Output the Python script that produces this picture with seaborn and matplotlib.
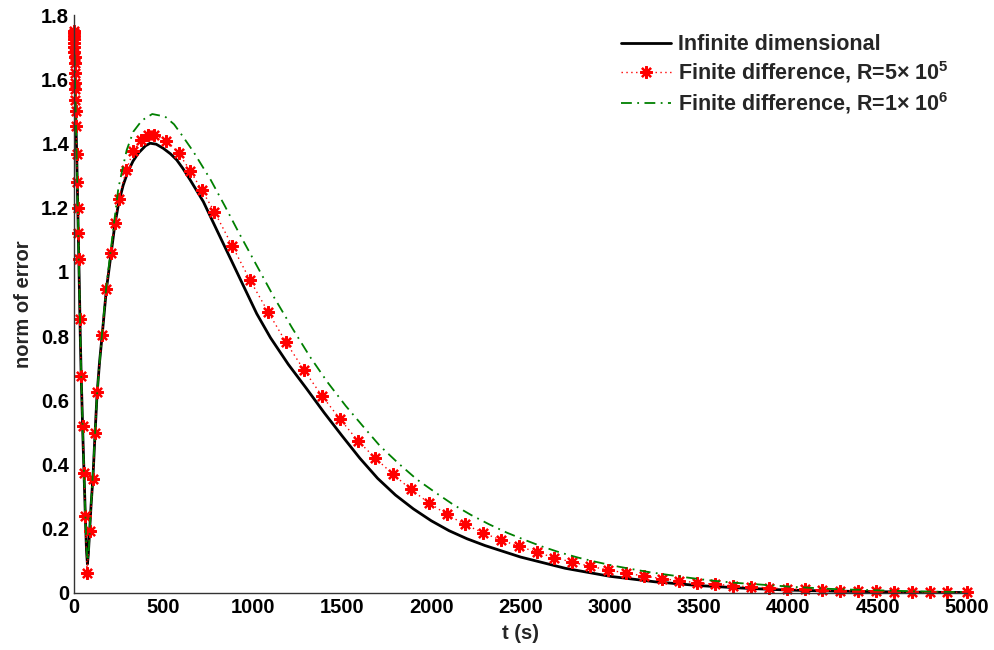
"""
Norm of estimation error: infinite dimensional vs finite difference observers
"""

import matplotlib
matplotlib.use("Agg")
import matplotlib.pyplot as plt
import seaborn as sns

# values
t_inf = [0, 5, 10, 15, 20, 25, 30, 35, 40, 45, 50, 55, 60, 65, 70, 75, 80, 88, 95,
         106, 118, 129, 143, 157, 181, 207, 228, 250, 275, 300, 330, 360, 400, 426,
         460, 500, 540, 575, 610, 650, 724, 800, 873, 950, 1023, 1100, 1200, 1300,
         1400, 1500, 1600, 1700, 1800, 1900, 2000, 2100, 2200, 2300, 2400, 2500, 2750,
         3000, 3250, 3500, 3750, 4000, 4250, 4500, 4750, 5000]
err_inf = [1.75, 1.605, 1.48, 1.367, 1.23, 1.09, 0.95, 0.80, 0.677, 0.58, 0.48, 0.39,
           0.30, 0.21, 0.13, 0.09, 0.12, 0.20, 0.27, 0.36, 0.50, 0.62, 0.72, 0.80,
           0.945, 1.055, 1.145, 1.215, 1.27, 1.31, 1.345, 1.37, 1.393, 1.401, 1.398,
           1.385, 1.368, 1.349, 1.322, 1.287, 1.219, 1.13, 1.045, 0.955, 0.87, 0.795,
           0.712, 0.638, 0.562, 0.49, 0.42, 0.357, 0.305, 0.262, 0.225, 0.194, 0.169,
           0.148, 0.13, 0.112, 0.077, 0.052, 0.035, 0.023, 0.015, 0.009, 0.006, 0.004,
           0.0025, 0.0015]

t_fd5 = [0, 0.4, 0.8, 1.2, 1.6, 2, 2.5, 3, 3.6, 4.5, 5.5, 6.5, 8, 9.5, 11.5, 15, 19,
         22, 25, 28, 33, 40, 48, 56, 63, 73, 88, 106, 118, 129, 157, 181, 207, 228,
         250, 293, 332, 373, 413, 450, 517, 586, 651, 716, 786, 886, 985, 1086, 1186,
         1287, 1388, 1488, 1588, 1687, 1786, 1885, 1986, 2087, 2187, 2288, 2389, 2490,
         2590, 2690, 2790, 2890, 2990, 3090, 3190, 3290, 3390, 3490, 3590, 3690, 3790,
         3890, 3990, 4090, 4190, 4290, 4390, 4490, 4590, 4690, 4790, 4890, 5000]
err_fd5 = [1.75, 1.745, 1.735, 1.725, 1.712, 1.70, 1.685, 1.67, 1.65, 1.62, 1.59, 1.57,
           1.535, 1.50, 1.455, 1.367, 1.28, 1.20, 1.12, 1.04, 0.852, 0.677, 0.519,
           0.373, 0.24, 0.063, 0.194, 0.355, 0.499, 0.626, 0.805, 0.947, 1.06, 1.154,
           1.228, 1.318, 1.376, 1.41, 1.428, 1.428, 1.409, 1.37, 1.315, 1.254, 1.188,
           1.081, 0.975, 0.876, 0.782, 0.695, 0.614, 0.543, 0.475, 0.42, 0.37, 0.323,
           0.281, 0.245, 0.214, 0.188, 0.165, 0.146, 0.127, 0.110, 0.096, 0.083, 0.072,
           0.062, 0.053, 0.045, 0.038, 0.032, 0.027, 0.023, 0.019, 0.016, 0.013, 0.011,
           0.009, 0.007, 0.006, 0.005, 0.004, 0.003, 0.003, 0.002, 0.002]

t_fd6 = [0, 10, 20, 30, 40, 50, 60, 70, 76, 82, 90, 100, 118, 129, 157, 181, 207, 228,
         248, 275, 295, 332, 380, 438, 510, 560, 603, 668, 765, 844, 924, 1021, 1121,
         1222, 1321, 1420, 1521, 1620, 1713, 1816, 1919, 2021, 2124, 2223, 2324, 2423,
         2525, 2619, 2722, 2824, 2922, 3020, 3118, 3220, 3320, 3422, 3520, 3618, 3720,
         3824, 3928, 4026, 4128, 4226, 4324, 4520, 4716, 4932, 5000]
err_fd6 = [1.75, 1.48, 1.23, 0.95, 0.68, 0.48, 0.30, 0.14, 0.10, 0.13, 0.22, 0.32, 0.50,
           0.62, 0.81, 0.955, 1.075, 1.17, 1.26, 1.33, 1.38, 1.437, 1.472, 1.492, 1.484,
           1.46, 1.427, 1.375, 1.287, 1.206, 1.121, 1.022, 0.92, 0.825, 0.736, 0.656,
           0.583, 0.518, 0.458, 0.404, 0.354, 0.314, 0.275, 0.243, 0.214, 0.188, 0.165,
           0.145, 0.126, 0.11, 0.097, 0.085, 0.075, 0.065, 0.057, 0.049, 0.042, 0.036,
           0.031, 0.027, 0.023, 0.019, 0.016, 0.013, 0.011, 0.008, 0.005, 0.003, 0.003]

labels = ["Infinite dimensional",
          "Finite difference, R=5\u00d7 10$^{5}$",
          "Finite difference, R=1\u00d7 10$^{6}$"]
x_ticks = list(range(0, 5001, 500))
y_ticks = [0, 0.2, 0.4, 0.6, 0.8, 1.0, 1.2, 1.4, 1.6, 1.8]
y_tick_labels = ["0", "0.2", "0.4", "0.6", "0.8", "1", "1.2", "1.4", "1.6", "1.8"]

sns.set_style("white")
plt.rcParams["font.family"] = ["Liberation Sans", "DejaVu Sans"]
plt.rcParams["font.weight"] = "bold"
plt.rcParams["mathtext.fontset"] = "custom"
plt.rcParams["mathtext.rm"] = "Liberation Sans:bold"
plt.rcParams["mathtext.it"] = "Liberation Sans:bold"
plt.rcParams["mathtext.bf"] = "Liberation Sans:bold"

fig = plt.figure(figsize=(9.95, 6.5), dpi=100)
ax = fig.add_axes([0.0744, 0.0877, 0.8975, 0.889])

sns.lineplot(x=t_inf, y=err_inf, ax=ax, color="black", linewidth=2.0,
             label=labels[0], sort=False)
sns.lineplot(x=t_fd5, y=err_fd5, ax=ax, color="red", linewidth=1.0,
             linestyle=(0, (1, 2.5)), marker=(8, 2, 0), markersize=9,
             markeredgewidth=1.6, markeredgecolor="red", label=labels[1],
             sort=False, clip_on=False)
sns.lineplot(x=t_fd6, y=err_fd6, ax=ax, color="#008000", linewidth=1.3,
             dashes=False, linestyle=(0, (6, 3, 1, 3)), label=labels[2],
             sort=False)

ax.set_xlim(0, 5000)
ax.set_ylim(0, 1.8)
ax.set_xticks(x_ticks)
ax.set_yticks(y_ticks)
ax.set_yticklabels(y_tick_labels)
ax.tick_params(direction="in", length=6, width=1, colors="#333333",
               labelcolor="black", labelsize=14.5)
for lab in ax.get_xticklabels() + ax.get_yticklabels():
    lab.set_fontweight("bold")

sns.despine(ax=ax)
for side in ["left", "bottom"]:
    ax.spines[side].set_color("#333333")
    ax.spines[side].set_linewidth(1.0)

ax.set_xlabel("t (s)", fontsize=14.5, fontweight="bold", labelpad=5)
ax.set_ylabel("norm of error", fontsize=14.5, fontweight="bold", labelpad=6)

ax.legend(loc="upper left", bbox_to_anchor=(0.603, 0.982), frameon=False,
          handlelength=2.3, handletextpad=0.35, labelspacing=0.2,
          borderaxespad=0.0, prop={"weight": "bold", "size": 15.5})

fig.savefig("out.png", dpi=100)
